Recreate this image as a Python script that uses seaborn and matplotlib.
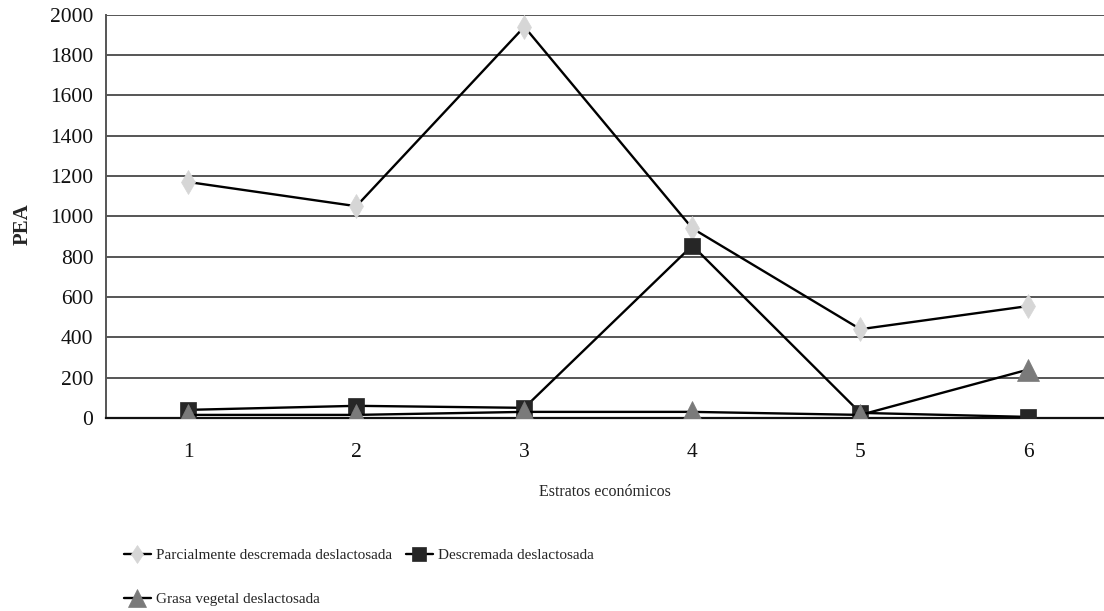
import matplotlib
matplotlib.use("Agg")
import matplotlib.pyplot as plt
import seaborn as sns
import pandas as pd

# Economic strata and PEA values per product
estratos = [1, 2, 3, 4, 5, 6]
parcialmente = [1170, 1050, 1940, 940, 440, 555]
descremada = [40, 60, 50, 855, 25, 5]
grasa_vegetal = [15, 15, 30, 30, 15, 240]

series = [
    ("Parcialmente descremada deslactosada", parcialmente, "d", "#d6d6d6", 12),
    ("Descremada deslactosada", descremada, "s", "#262626", 12),
    ("Grasa vegetal deslactosada", grasa_vegetal, "^", "#7a7a7a", 16),
]

sns.set_theme(style="white")
plt.rcParams["font.family"] = ["Liberation Serif", "DejaVu Serif"]

fig = plt.figure(figsize=(11.04, 6.11), dpi=100)
ax = fig.add_axes([0.096, 0.316, 0.904, 0.660])

for name, vals, mk, col, ms in series:
    df = pd.DataFrame({"estrato": estratos, "pea": vals})
    sns.lineplot(data=df, x="estrato", y="pea", ax=ax, color="black",
                 linewidth=1.7, marker=mk, markersize=ms,
                 markerfacecolor=col, markeredgecolor=col,
                 markeredgewidth=0.5, label=name, zorder=3)

ax.set_xlim(0.51, 6.45)
ax.set_ylim(0, 2000)
ax.set_yticks(range(0, 2001, 200))
ax.set_xticks(estratos)
ax.tick_params(axis="both", length=0, labelsize=15.5, colors="#111111")
ax.tick_params(axis="x", pad=18)
ax.tick_params(axis="y", pad=9)
ax.yaxis.grid(True, color="#555555", linewidth=1.4)
ax.xaxis.grid(False)
for s in ["top", "right"]:
    ax.spines[s].set_visible(False)
ax.spines["left"].set_color("#555555")
ax.spines["left"].set_linewidth(1.4)
ax.spines["bottom"].set_color("#111111")
ax.spines["bottom"].set_linewidth(1.6)

ax.set_ylabel("PEA", fontsize=15, fontweight="bold")
ax.yaxis.set_label_coords(-0.074, 0.48)
ax.set_xlabel("Estratos económicos", fontsize=11.5)
ax.xaxis.set_label_coords(0.5, -0.165)

handles, labels = ax.get_legend_handles_labels()
order = [0, 2, 1]
ax.legend([handles[i] for i in order], [labels[i] for i in order],
          ncol=2, frameon=False, fontsize=11, handlelength=1.75,
          handletextpad=0.35, columnspacing=0.9, labelspacing=2.0,
          loc="upper left", bbox_to_anchor=(0.012, -0.308),
          borderaxespad=0, markerscale=0.8)

fig.savefig("out.png", dpi=100)
